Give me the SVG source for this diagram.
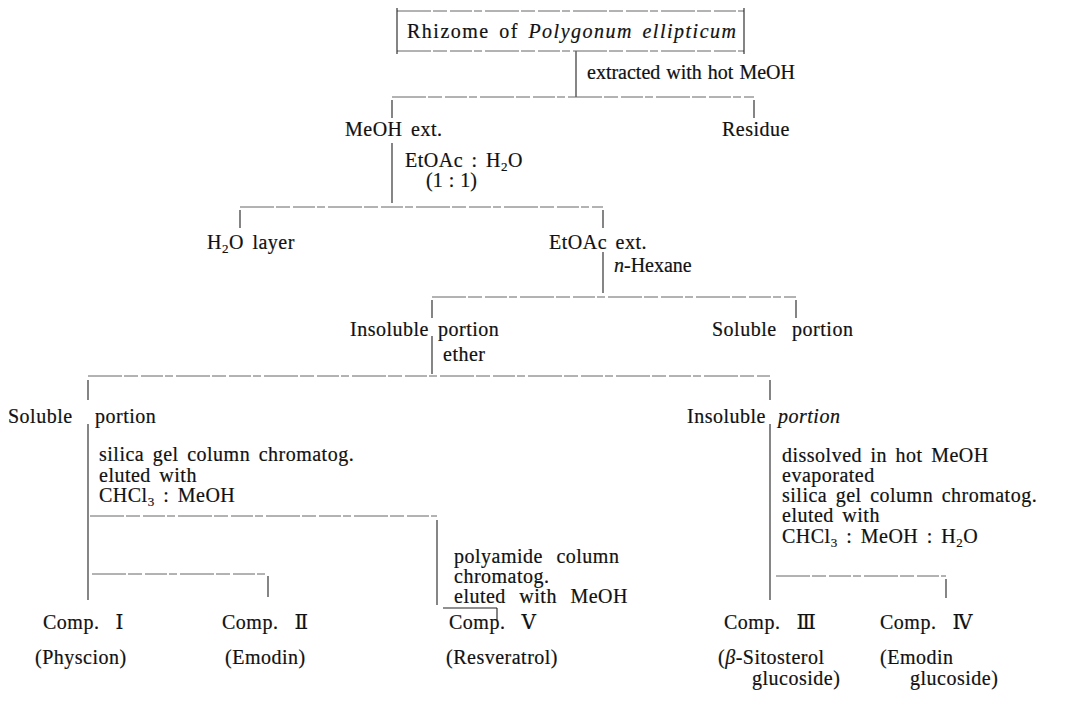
<svg xmlns="http://www.w3.org/2000/svg" width="1074" height="712" viewBox="0 0 1074 712">
<style>
text{font-family:"Liberation Serif","DejaVu Serif","Noto Sans CJK JP",serif;font-size:20px;fill:#111;stroke:#111;stroke-width:0.2;letter-spacing:0.5px;word-spacing:3px}
.i{font-style:italic}
.sub{font-size:13px}
.v{stroke:#222;stroke-width:1.1;fill:none}
.h{stroke:#666;stroke-width:1;fill:none;stroke-dasharray:34 2 14 3 22 2 8 3}
.w text{word-spacing:8px}
.t{letter-spacing:0;word-spacing:1px}
.e{text-anchor:end}
</style>
<rect width="1074" height="712" fill="#fff"/>
<g id="connectors">
<path class="v" d="M576 51V97"/>
<path class="h" d="M392 97H754"/>
<path class="v" d="M392 100V118M754 100V118"/>
<path class="v" d="M392 143V203"/>
<path class="h" d="M240 207H603"/>
<path class="v" d="M240 210V228M603 210V228"/>
<path class="v" d="M603 252V293"/>
<path class="h" d="M432 297H796"/>
<path class="v" d="M432 300V318M796 300V318"/>
<path class="v" d="M432 336V374"/>
<path class="h" d="M88 376H770"/>
<path class="v" d="M88 380V400M770 380V400"/>
<path class="v" d="M88 424V600"/>
<path class="h" d="M90 516H437"/>
<path class="v" d="M437 520V605"/>
<path class="v" d="M443 608H497M497 608V620"/>
<path class="h" d="M92 574H268"/>
<path class="v" d="M268 576V597"/>
<path class="v" d="M770 424V600"/>
<path class="h" d="M776 576H946"/>
<path class="v" d="M946 579V598"/>
</g>
<g id="n-rhizome">
<path class="h" d="M397 11H744M397 51H744"/>
<path class="v" d="M397 8V54M744 8V54"/>
<text x="407" y="38" style="letter-spacing:1.5px">Rhizome of <tspan class="i">Polygonum ellipticum</tspan></text>
</g>
<g id="l-extract"><text class="t" x="587" y="79">extracted with hot MeOH</text></g>
<g id="n-meoh-ext"><text x="345" y="136">MeOH ext.</text></g>
<g id="n-residue"><text x="722" y="136">Residue</text></g>
<g id="l-etoac-h2o"><text x="405" y="167">EtOAc : H<tspan class="sub" dy="4">2</tspan><tspan dy="-4">O</tspan></text><text class="t" x="426" y="187">(1 : 1)</text></g>
<g id="n-h2o-layer"><text x="207" y="249">H<tspan class="sub" dy="4">2</tspan><tspan dy="-4">O layer</tspan></text></g>
<g id="n-etoac-ext"><text x="549" y="249">EtOAc ext.</text></g>
<g id="l-hexane"><text class="t" x="614" y="272"><tspan class="i">n</tspan>-Hexane</text></g>
<g id="n-insol1"><text class="e" x="429" y="336">Insoluble</text><text x="438" y="336">portion</text></g>
<g id="n-sol1"><text x="712" y="336" style="word-spacing:10px">Soluble portion</text></g>
<g id="l-ether"><text x="443" y="361">ether</text></g>
<g id="n-sol2"><text x="8" y="423">Soluble</text><text x="95" y="423">portion</text></g>
<g id="n-insol2"><text x="687" y="423">Insoluble</text><text class="i" x="778" y="423">portion</text></g>
<g id="l-silica1">
<text x="99" y="461">silica gel column chromatog.</text>
<text x="99" y="482">eluted with</text>
<text x="99" y="502">CHCl<tspan class="sub" dy="4">3</tspan><tspan dy="-4"> : MeOH</tspan></text>
</g>
<g id="l-polyamide" class="w">
<text x="454" y="563">polyamide column</text>
<text x="454" y="583">chromatog.</text>
<text x="454" y="603">eluted with MeOH</text>
</g>
<g id="l-silica2">
<text x="782" y="462">dissolved in hot MeOH</text>
<text x="782" y="482">evaporated</text>
<text x="782" y="502">silica gel column chromatog.</text>
<text x="782" y="522">eluted with</text>
<text x="782" y="543">CHCl<tspan class="sub" dy="4">3</tspan><tspan dy="-4"> : MeOH : H</tspan><tspan class="sub" dy="4">2</tspan><tspan dy="-4">O</tspan></text>
</g>
<g id="n-comp1"><text x="43" y="629">Comp.<tspan dx="16">Ⅰ</tspan></text><text x="35" y="664">(Physcion)</text></g>
<g id="n-comp2"><text x="222" y="629">Comp.<tspan dx="16">Ⅱ</tspan></text><text x="225" y="664">(Emodin)</text></g>
<g id="n-comp5"><text x="449" y="629">Comp.<tspan dx="16">Ⅴ</tspan></text><text x="446" y="664">(Resveratrol)</text></g>
<g id="n-comp3"><text x="724" y="629">Comp.<tspan dx="16">Ⅲ</tspan></text><text x="718" y="664">(<tspan class="i">β</tspan>-Sitosterol</text><text x="752" y="685">glucoside)</text></g>
<g id="n-comp4"><text x="880" y="629">Comp.<tspan dx="16">Ⅳ</tspan></text><text x="880" y="664">(Emodin</text><text x="910" y="685">glucoside)</text></g>
</svg>
